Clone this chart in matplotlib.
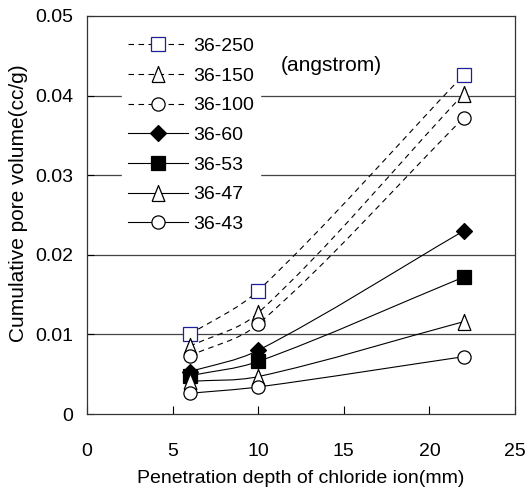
import numpy as np
import matplotlib.pyplot as plt
from matplotlib.path import Path
from matplotlib.patches import PathPatch
from matplotlib.lines import Line2D

plt.rcParams['font.family'] = ['Liberation Sans', 'DejaVu Sans']

# 侵入深度 (mm)
depth = [6, 10, 22]

# 各试样的累计孔隙体积 (cc/g)
names = ['36-250', '36-150', '36-100', '36-60', '36-53', '36-47', '36-43']
v_250 = [0.0100, 0.0155, 0.0426]
v_150 = [0.0085, 0.0127, 0.0402]
v_100 = [0.0073, 0.0113, 0.0372]
v_60 = [0.0053, 0.0080, 0.0230]
v_53 = [0.0048, 0.0066, 0.0172]
v_47 = [0.0041, 0.0047, 0.0116]
v_43 = [0.0026, 0.0034, 0.0072]
values = [v_250, v_150, v_100, v_60, v_53, v_47, v_43]

tri = [(-0.8, -1), (0.8, -1), (0, 1), (-0.8, -1)]   # 偏高的三角形
markers = ['s', tri, 'o', 'D', 's', tri, 'o']
faces = ['white', 'white', 'white', 'black', 'black', 'white', 'white']
edges = ['#1f1f99', 'black', 'black', 'black', 'black', 'black', 'black']
styles = [(0, (5, 4))] * 3 + ['-'] * 4
msizes = [9.5, 11.5, 9.5, 8, 9.5, 11.5, 9.5]

FS = 14
SX, SY = 428 / 25, 398 / 0.05   # 像素/数据单位，用于平滑计算


def smooth_path(x, y):
    # 类似 Excel 平滑线：切线方向取相邻点连线，长度按段长的 1/3
    p = np.column_stack([np.asarray(x) * SX, np.asarray(y) * SY])
    n = len(p)
    tang = []
    for i in range(n):
        a = p[max(i - 1, 0)]
        b = p[min(i + 1, n - 1)]
        d = b - a
        tang.append(d / np.hypot(*d))
    verts = [p[0]]
    codes = [Path.MOVETO]
    for i in range(n - 1):
        L = np.hypot(*(p[i + 1] - p[i])) / 3
        verts += [p[i] + tang[i] * L, p[i + 1] - tang[i + 1] * L, p[i + 1]]
        codes += [Path.CURVE4] * 3
    verts = np.array(verts) / [SX, SY]
    return Path(verts, codes)


fig = plt.figure(figsize=(5.25, 4.94), dpi=100)
ax = fig.add_axes([87 / 525, 80 / 494, 428 / 525, 398 / 494])

for k in range(len(names)):
    path = smooth_path(depth, values[k])
    ax.add_patch(PathPatch(path, fill=False, lw=0.8, ec='black',
                           linestyle=styles[k], zorder=2))
    ax.plot(depth, values[k], linestyle='none', marker=markers[k],
            ms=msizes[k], mfc=faces[k], mec=edges[k], mew=0.9, zorder=3)

for yv in [0.01, 0.02, 0.03, 0.04]:
    ax.axhline(yv, color='#444444', lw=0.9, zorder=1)

ax.set_xlim(0, 25)
ax.set_ylim(0, 0.05)
ax.set_xticks([0, 5, 10, 15, 20, 25])
ax.set_yticks([0, 0.01, 0.02, 0.03, 0.04, 0.05])
ax.set_yticklabels(['0', '0.01', '0.02', '0.03', '0.04', '0.05'])
ax.tick_params(axis='x', direction='in', length=6, pad=21, labelsize=FS)
ax.tick_params(axis='y', direction='in', length=5, pad=10, labelsize=FS)
for s in ax.spines.values():
    s.set_linewidth(0.9)
    s.set_color('#333333')

ax.set_xlabel('Penetration depth of chloride ion(mm)', fontsize=FS, labelpad=7)
ax.set_ylabel('Cumulative pore volume(cc/g)', fontsize=15, labelpad=0)
ax.yaxis.set_label_coords(-0.137, 0.53)

handles = []
for k in range(len(names)):
    handles.append(Line2D([], [], color='black', lw=0.8, linestyle=styles[k],
                          marker=markers[k], ms=msizes[k], mfc=faces[k],
                          mec=edges[k], mew=0.9))
leg = ax.legend(handles, names, loc='upper left', bbox_to_anchor=(0.06, 0.985),
                fontsize=FS, frameon=True, framealpha=1, edgecolor='white',
                fancybox=False, handlelength=3.05, handletextpad=0.3,
                labelspacing=0.62, borderpad=0.3)
leg.set_zorder(4)

ax.text(11.3, 0.0438, '(angstrom)', fontsize=15, va='center', ha='left')

fig.savefig('out.png', dpi=100)
